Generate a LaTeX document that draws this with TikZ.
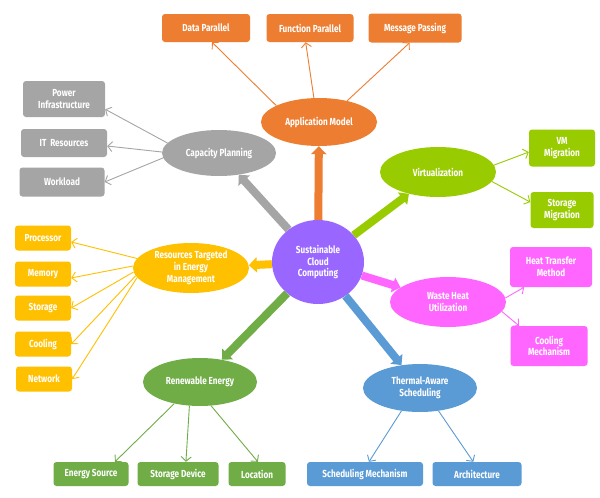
\documentclass[tikz,border=0pt]{standalone}
\usepackage{fontspec}
\setmainfont{Fira Sans}[FakeStretch=0.8]
\usetikzlibrary{shapes.geometric,arrows.meta}
\definecolor{orangeC}{HTML}{ED7D31}
\definecolor{grayC}{HTML}{A5A5A5}
\definecolor{limeC}{HTML}{99CC00}
\definecolor{goldC}{HTML}{FFC000}
\definecolor{pinkC}{HTML}{FF66FF}
\definecolor{greenC}{HTML}{70AD47}
\definecolor{blueC}{HTML}{5B9BD5}
\definecolor{purpC}{HTML}{9966FF}
\begin{document}
\begin{tikzpicture}[x=1pt,y=-1pt,
  txt/.style={text=white,font=\fontsize{10.2}{11.8}\selectfont\bfseries,align=center,inner sep=0pt},
  box/.style={txt,rectangle,rounded corners=3pt,fill=#1},
  ell/.style={txt,ellipse,fill=#1,minimum width=116pt,minimum height=48pt},
  big/.style={draw=#1,line width=8pt,-{Triangle[width=15pt,length=8pt]}},
  thinarr/.style={draw=#1,line width=0.9pt,-{Straight Barb[length=4.5pt,width=10pt]}}]
\useasboundingbox (0,0) rectangle (600,498);
\fill[white] (0,0) rectangle (600,498);

% central
\node[txt,ellipse,fill=purpC,minimum width=92pt,minimum height=84pt] (scc) at (318,262) {Sustainable\\Cloud\\Computing};

% ellipses
\node[ell=orangeC] (am) at (319,122) {Application Model};
\node[ell=grayC,minimum width=114pt,minimum height=46pt] (cp) at (219,153) {Capacity Planning};
\node[ell=limeC,minimum height=50pt] (virt) at (438,172) {Virtualization};
\node[ell=goldC,minimum height=50pt] (res) at (191,268) {Resources Targeted\\in Energy\\Management};
\node[ell=pinkC,minimum height=50pt] (whu) at (448,302) {Waste Heat\\Utilization};
\node[ell=greenC,minimum width=114pt] (re) at (200,382) {Renewable Energy};
\node[ell=blueC,minimum width=114pt] (tas) at (420,388) {Thermal-Aware\\Scheduling};

% boxes
\node[box=orangeC,minimum width=88pt,minimum height=28pt] (dp) at (206,28) {Data Parallel};
\node[box=orangeC,minimum width=87pt,minimum height=28pt] (fp) at (310,28) {Function Parallel};
\node[box=orangeC,minimum width=93pt,minimum height=29pt] (mp) at (415,28) {Message Passing};

\node[box=grayC,minimum width=82pt,minimum height=36pt] (pi) at (64,99) {Power\\Infrastructure};
\node[box=grayC,minimum width=86pt,minimum height=28pt] (it) at (64,143) {IT~~Resources};
\node[box=grayC,minimum width=85pt,minimum height=29pt] (wl) at (62,182) {Workload};

\node[box=limeC,minimum width=66pt,minimum height=37pt] (vm) at (562,148) {VM\\Migration};
\node[box=limeC,minimum width=63pt,minimum height=36pt] (sm) at (562,210) {Storage\\Migration};

\node[box=goldC,minimum width=56pt,minimum height=25pt] (proc) at (43,238) {Processor};
\node[box=goldC,minimum width=56pt,minimum height=25pt] (mem) at (43,274) {Memory};
\node[box=goldC,minimum width=56pt,minimum height=25pt] (sto) at (43,308) {Storage};
\node[box=goldC,minimum width=56pt,minimum height=25pt] (cool) at (43,344) {Cooling};
\node[box=goldC,minimum width=56pt,minimum height=25pt] (net) at (44,379) {Network};

\node[box=pinkC,minimum width=82pt,minimum height=40pt] (htm) at (551,267) {Heat Transfer\\Method};
\node[box=pinkC,minimum width=77pt,minimum height=40pt] (cm) at (549,346) {Cooling\\Mechanism};

\node[box=greenC,minimum width=75pt,minimum height=24pt] (es) at (91,474) {Energy Source};
\node[box=greenC,minimum width=81pt,minimum height=24pt] (sd) at (178,474) {Storage Device};
\node[box=greenC,minimum width=57pt,minimum height=24pt] (loc) at (257,474) {Location};

\node[box=blueC,minimum width=116pt,minimum height=24pt] (schm) at (365,474) {Scheduling Mechanism};
\node[box=blueC,minimum width=89pt,minimum height=24pt] (arch) at (477,474) {Architecture};

% thick arrows
\draw[big=orangeC] (scc) -- (am);
\draw[big=grayC] (scc) -- (cp);
\draw[big=limeC] (scc) -- (virt);
\draw[big=goldC] (scc) -- (res);
\draw[big=pinkC] (scc) -- (whu);
\draw[big=greenC] (scc) -- (re);
\draw[big=blueC] (scc) -- (tas);

% thin arrows
\draw[thinarr=orangeC] (am.159) -- (dp.-67);
\draw[thinarr=orangeC] (am.102) -- (fp.-107);
\draw[thinarr=orangeC] (am.37) -- (mp.-110);

\draw[thinarr=grayC] (cp.169) -- (pi.-14);
\draw[thinarr=grayC] (cp.179) -- (it.-4);
\draw[thinarr=grayC] (cp.185) -- (wl.east);

\draw[thinarr=limeC] (virt.7) -- (vm.187);
\draw[thinarr=limeC] (virt.-10) -- (sm.166);

\draw[thinarr=goldC] (res.170) -- (proc.-8);
\draw[thinarr=goldC] (res.178) -- (mem.-8);
\draw[thinarr=goldC] (res.184) -- (sto.east);
\draw[thinarr=goldC] (res.188) -- (cool.east);
\draw[thinarr=goldC] (res.190) -- (net.east);

\draw[thinarr=pinkC] (whu.4) -- (htm.217);
\draw[thinarr=pinkC] (whu.-10) -- (cm.146);

\draw[thinarr=greenC] (re.220) -- (es.27);
\draw[thinarr=greenC] (re.246) -- (sd.57);
\draw[thinarr=greenC] (re.295) -- (loc.86);

\draw[thinarr=blueC] (tas.231) -- (schm.72);
\draw[thinarr=blueC] (tas.309) -- (arch.107);
\end{tikzpicture}
\end{document}
